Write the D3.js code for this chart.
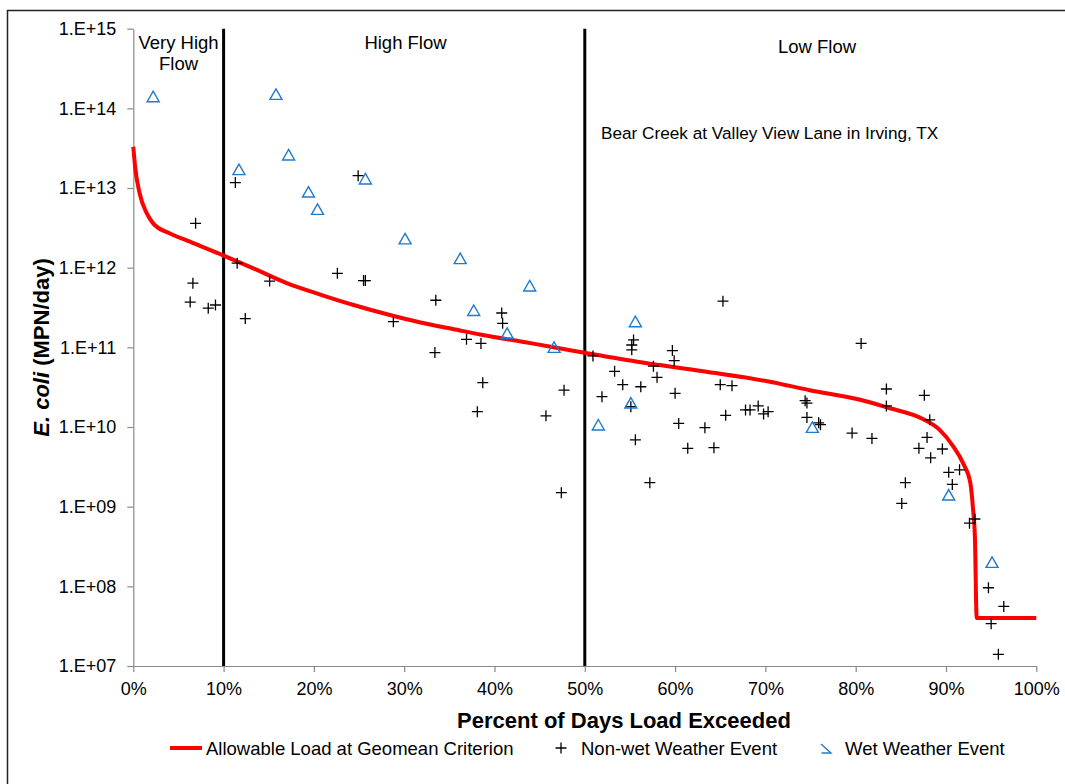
<!DOCTYPE html>
<html>
<head>
<meta charset="utf-8">
<script src="https://cdn.jsdelivr.net/npm/d3@7/dist/d3.min.js"></script>
<style>
body { margin: 0; background: #fff; }
text { font-family: "Liberation Sans", Arial, sans-serif; fill: #000; }
</style>
</head>
<body>
<script>
// allowable load curve (percent of days exceeded, MPN/day)
var curvePct  = [0, 0.2, 0.7, 1.5, 2.2, 4.0, 5.9, 10.0, 13.3, 17.0, 20.7, 24.4, 28.1, 31.8, 35.4, 38.4, 44.0, 49.8, 55.8, 63.1, 70.5, 74.9, 80.5, 83.4, 87.5, 89.3, 90.8, 91.9, 92.7, 93.0, 93.2, 93.4, 100];
var curveLoad = [3.3e13, 1.85e13, 8.6e12, 4.8e12, 3.6e12, 2.7e12, 2.2e12, 1.42e12, 9.8e11, 6.4e11, 4.6e11, 3.4e11, 2.6e11, 2.05e11, 1.7e11, 1.45e11, 1.13e11, 8.6e10, 6.6e10, 5.0e10, 3.7e10, 2.9e10, 2.2e10, 1.77e10, 1.25e10, 9.2e9, 5.7e9, 3.5e9, 1.97e9, 9.1e8, 4.2e8, 4.0e7, 4.0e7];

// non-wet weather samples
var dryPct  = [6.3, 6.6, 6.9, 8.3, 9.1, 11.3, 11.5, 12.4, 15.1, 22.6, 24.9, 25.5, 25.7, 28.8, 33.4, 33.5, 36.9, 38.1, 38.5, 38.7, 40.8, 40.9, 45.7, 47.4, 47.7, 50.9, 51.9, 53.3, 54.2, 55.1, 55.2, 55.2, 55.4, 55.6, 56.2, 57.2, 57.6, 58.0, 59.7, 59.9, 60.0, 60.4, 61.4, 63.3, 64.3, 65.0, 65.3, 65.6, 66.3, 67.8, 68.3, 69.2, 69.8, 70.3, 74.4, 74.6, 74.6, 75.9, 76.1, 79.6, 80.6, 81.8, 83.4, 83.4, 85.1, 85.5, 87.0, 87.6, 87.9, 88.2, 88.3, 89.6, 90.3, 90.7, 91.5, 92.6, 93.2, 94.7, 95.0, 95.8, 96.4];
var dryLoad = [3.7e11, 6.4e11, 3.6e12, 3.1e11, 3.4e11, 1.17e13, 1.14e12, 2.3e11, 6.8e11, 8.5e11, 1.43e13, 6.9e11, 6.9e11, 2.1e11, 8.6e10, 3.9e11, 1.26e11, 1.56e10, 1.12e11, 3.6e10, 2.7e11, 2.0e11, 1.38e10, 1.5e9, 2.9e10, 7.8e10, 2.4e10, 5.0e10, 3.4e10, 1.8e10, 1.07e11, 9.3e10, 1.24e11, 6.9e9, 3.2e10, 2.0e9, 5.8e10, 4.2e10, 9.1e10, 6.8e10, 2.65e10, 1.11e10, 5.4e9, 9.8e9, 5.5e9, 3.4e10, 3.8e11, 1.4e10, 3.3e10, 1.64e10, 1.64e10, 1.84e10, 1.46e10, 1.56e10, 2.14e10, 2.0e10, 1.32e10, 1.13e10, 1.07e10, 8.4e9, 1.12e11, 7.2e9, 3.0e10, 1.84e10, 1.1e9, 2.0e9, 5.4e9, 2.5e10, 7.4e9, 1.23e10, 4.1e9, 5.3e9, 2.7e9, 1.9e9, 2.9e9, 6.2e8, 7.0e8, 9.6e7, 3.4e7, 1.4e7, 5.6e7];

// wet weather samples
var wetPct  = [2.2, 11.7, 15.8, 17.2, 19.4, 20.4, 25.7, 30.1, 36.2, 37.7, 41.4, 43.9, 46.6, 51.5, 55.1, 55.6, 75.2, 90.3, 95.1];
var wetLoad = [1.4e14, 1.7e13, 1.5e14, 2.6e13, 8.9e12, 5.4e12, 1.3e13, 2.3e12, 1.3e12, 2.9e11, 1.5e11, 5.9e11, 1.0e11, 1.06e10, 2.0e10, 2.1e11, 9.9e9, 1.4e9, 2.0e8];

var xTicks = [0, 10, 20, 30, 40, 50, 60, 70, 80, 90, 100];
var yTicks = [1e7, 1e8, 1e9, 1e10, 1e11, 1e12, 1e13, 1e14, 1e15];
var flowBreaks = [10, 50];

var svg = d3.select('body').append('svg')
    .attr('width', 1065)
    .attr('height', 784);

// outer chart frame
svg.append('rect')
    .attr('x', 7.5).attr('y', 10.5)
    .attr('width', 1200).attr('height', 900)
    .attr('fill', 'none')
    .attr('stroke', '#222')
    .attr('stroke-width', 1.5);

var x = d3.scaleLinear().domain([0, 100]).range([133.3, 1036.3]);
var y = d3.scaleLog().domain([1e7, 1e15]).range([666, 28.7]);

// axes
var yAxis = svg.append('g')
    .attr('transform', 'translate(133.3,0)')
    .call(d3.axisLeft(y)
        .tickValues(yTicks)
        .tickSizeInner(6).tickSizeOuter(0).tickPadding(11)
        .tickFormat(function (d) {
            var e = Math.round(Math.log10(d));
            return '1.E+' + (e < 10 ? '0' + e : e);
        }));

var xAxis = svg.append('g')
    .attr('transform', 'translate(0,666)')
    .call(d3.axisBottom(x)
        .tickValues(xTicks)
        .tickSizeInner(6).tickSizeOuter(0)
        .tickFormat(function (d) { return d + '%'; }));

svg.selectAll('.domain, .tick line')
    .attr('stroke', '#8a8a8a')
    .attr('stroke-width', 1.2);
yAxis.selectAll('text').attr('font-size', 18).attr('font-family', '"Liberation Sans", Arial, sans-serif');
xAxis.selectAll('text').attr('font-size', 18).attr('font-family', '"Liberation Sans", Arial, sans-serif')
    .attr('y', 29).attr('dy', 0);

// flow regime separators
svg.selectAll('line.brk')
    .data(flowBreaks)
    .enter()
    .append('line')
    .attr('class', 'brk')
    .attr('x1', function (d) { return x(d); })
    .attr('x2', function (d) { return x(d); })
    .attr('y1', y(1e15))
    .attr('y2', y(1e7))
    .attr('stroke', '#000')
    .attr('stroke-width', 3);

// allowable load line
var curve = curvePct.map(function (p, i) { return [p, curveLoad[i]]; });
svg.append('path')
    .datum(curve)
    .attr('fill', 'none')
    .attr('stroke', '#ff0000')
    .attr('stroke-width', 4)
    .attr('stroke-linejoin', 'round')
    .attr('d', d3.line()
        .x(function (d) { return x(d[0]); })
        .y(function (d) { return y(d[1]); })
        .curve(d3.curveMonotoneX));

// non-wet points (plus)
var dry = dryPct.map(function (p, i) { return [p, dryLoad[i]]; });
svg.selectAll('path.dry')
    .data(dry)
    .enter()
    .append('path')
    .attr('class', 'dry')
    .attr('transform', function (d) { return 'translate(' + x(d[0]) + ',' + y(d[1]) + ')'; })
    .attr('d', 'M-5.5,0H5.5M0,-5.5V5.5')
    .attr('stroke', '#000')
    .attr('stroke-width', 1.3)
    .attr('fill', 'none');

// wet points (triangle)
var wet = wetPct.map(function (p, i) { return [p, wetLoad[i]]; });
svg.selectAll('path.wet')
    .data(wet)
    .enter()
    .append('path')
    .attr('class', 'wet')
    .attr('transform', function (d) { return 'translate(' + x(d[0]) + ',' + y(d[1]) + ')'; })
    .attr('d', 'M0,-5.5L6,5H-6Z')
    .attr('stroke', '#1f7bcc')
    .attr('stroke-width', 1.4)
    .attr('fill', 'none');

// region labels
svg.append('text').attr('x', 178.5).attr('y', 49).attr('text-anchor', 'middle').attr('font-size', 18.5).text('Very High');
svg.append('text').attr('x', 178.5).attr('y', 70).attr('text-anchor', 'middle').attr('font-size', 18.5).text('Flow');
svg.append('text').attr('x', 405.5).attr('y', 49).attr('text-anchor', 'middle').attr('font-size', 18.5).text('High Flow');
svg.append('text').attr('x', 817).attr('y', 53).attr('text-anchor', 'middle').attr('font-size', 18.5).text('Low Flow');
svg.append('text').attr('x', 601).attr('y', 139).attr('font-size', 17.2).text('Bear Creek at Valley View Lane in Irving, TX');

// axis titles
svg.append('text')
    .attr('x', 624).attr('y', 728)
    .attr('text-anchor', 'middle')
    .attr('font-size', 22)
    .attr('font-weight', 'bold')
    .text('Percent of Days Load Exceeded');

var yt = svg.append('text')
    .attr('transform', 'translate(49,347.5) rotate(-90)')
    .attr('text-anchor', 'middle')
    .attr('font-size', 22)
    .attr('font-weight', 'bold');
yt.append('tspan').attr('font-style', 'italic').text('E. coli');
yt.append('tspan').text(' (MPN/day)');

// legend
var lg = svg.append('g').attr('transform', 'translate(0,748)');
lg.append('line').attr('x1', 170).attr('x2', 202).attr('y1', 0).attr('y2', 0)
    .attr('stroke', '#ff0000').attr('stroke-width', 4);
lg.append('text').attr('x', 206).attr('y', 6.5).attr('font-size', 18.5).text('Allowable Load at Geomean Criterion');
lg.append('path').attr('transform', 'translate(561,0)').attr('d', 'M-5.5,0H5.5M0,-5.5V5.5')
    .attr('stroke', '#000').attr('stroke-width', 1.3);
lg.append('text').attr('x', 581).attr('y', 6.5).attr('font-size', 18.5).text('Non-wet Weather Event');
lg.append('path').attr('transform', 'translate(826,0)').attr('d', 'M-5,-4L5,5H-4.5')
    .attr('stroke', '#1f7bcc').attr('stroke-width', 1.4).attr('fill', 'none');
lg.append('text').attr('x', 845).attr('y', 6.5).attr('font-size', 18.5).text('Wet Weather Event');
</script>
</body>
</html>
